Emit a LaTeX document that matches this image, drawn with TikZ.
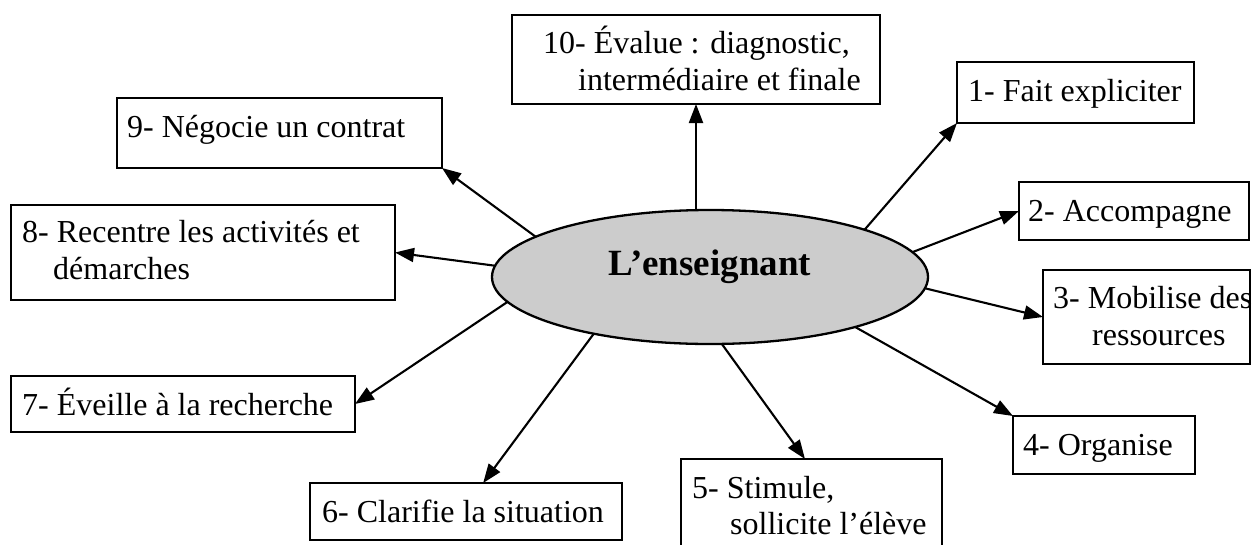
\documentclass[tikz,border=0pt]{standalone}
\usepackage{fontspec}
\setmainfont{Liberation Serif}
\usetikzlibrary{arrows.meta,shapes.geometric,calc}
\definecolor{ellgray}{HTML}{CCCCCC}
\begin{document}
\begin{tikzpicture}[x=1pt,y=-1pt,
  box/.style={draw, line width=2.7pt, inner sep=0pt, outer sep=0pt, fill=white},
  lbl/.style={anchor=base west, inner sep=0pt, font=\fontsize{32}{37}\selectfont},
  hub/.style={ellipse, draw, line width=2.3pt, fill=ellgray, inner sep=0pt, outer sep=0pt,
              minimum width=436pt, minimum height=134pt},
  hubtext/.style={anchor=base, inner sep=0pt, font=\fontsize{37}{42}\selectfont\bfseries},
  arr/.style={line width=2.1pt, -{Triangle[length=19pt,width=14pt]}}]
\useasboundingbox (0,0) rectangle (1253,544);
\clip (0,0) rectangle (1253,544);

% boxes
\node[box, minimum width=368pt, minimum height=89pt] (b10) at (696,59.5) {};
\node[box, minimum width=237pt, minimum height=61pt] (b1) at (1075.5,92.5) {};
\node[box, minimum width=325pt, minimum height=70pt] (b9) at (279.5,133) {};
\node[box, minimum width=230pt, minimum height=58pt] (b2) at (1134,211) {};
\node[box, minimum width=384pt, minimum height=95pt] (b8) at (203,252.5) {};
\node[box, minimum width=207pt, minimum height=94pt] (b3) at (1146.5,317) {};
\node[box, minimum width=344pt, minimum height=56pt] (b7) at (183,404) {};
\node[box, minimum width=182pt, minimum height=58pt] (b4) at (1104,445) {};
\node[box, minimum width=312pt, minimum height=57pt] (b6) at (466,511.5) {};
\node[box, minimum width=261pt, minimum height=101pt] (b5) at (811.5,509.5) {};

% texts
\node[lbl] (t10a) at (543,53) {10- Évalue : diagnostic,};
\node[lbl] (t10b) at (578,90) {intermédiaire et finale};
\node[lbl] (t1) at (968,101) {1- Fait expliciter};
\node[lbl] (t9) at (127,137) {9- Négocie un contrat};
\node[lbl] (t2) at (1028,221) {2- Accompagne};
\node[lbl] (t8a) at (22,242) {8- Recentre les activités et};
\node[lbl] (t8b) at (53,279) {démarches};
\node[lbl] (t3a) at (1053,308) {3- Mobilise des};
\node[lbl] (t3b) at (1092,345) {ressources};
\node[lbl] (t7) at (22,415) {7- Éveille à la recherche};
\node[lbl] (t4) at (1023,455) {4- Organise};
\node[lbl] (t6) at (322,522) {6- Clarifie la situation};
\node[lbl] (t5a) at (692,498) {5- Stimule,};
\node[lbl] (t5b) at (730,534) {sollicite l’élève};

% hub
\node[hub] (ell) at (710,277) {};
\node[hubtext] (hubt) at (710,275) {L’enseignant};

% connectors
\draw[arr] (ell.north -| b10.south) -- (b10.south);
\draw[arr] (ell.17.9) -- (b1.south west);
\draw[arr] (ell.7) -- (b2.west);
\draw[arr] (ell.357.3) -- (b3.west);
\draw[arr] (ell.341) -- (b4.north west);
\draw[arr] (ell.280) -- ($(b5.north west)!0.475!(b5.north east)$);
\draw[arr] (ell.206.4) -- ($(b6.north west)!0.555!(b6.north east)$);
\draw[arr] (ell.187.9) -- (b7.east);
\draw[arr] (ell.177.6) -- (b8.east);
\draw[arr] (ell.167.1) -- (b9.south east);
\end{tikzpicture}
\end{document}
